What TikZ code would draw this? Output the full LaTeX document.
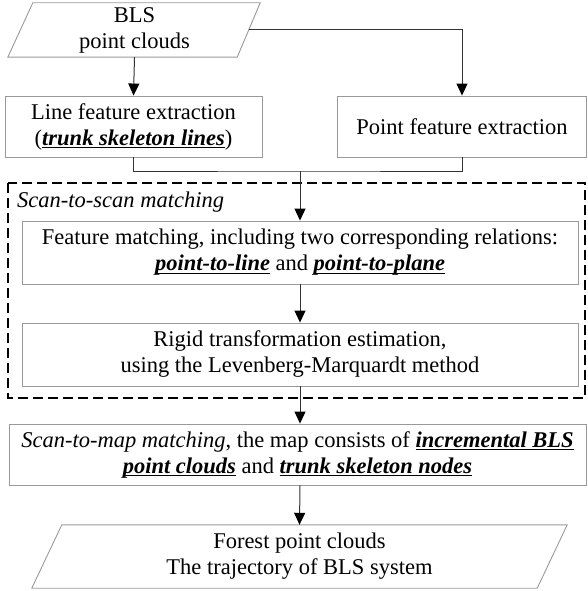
\documentclass[tikz,border=0pt]{standalone}
\usepackage{fontspec}
\setmainfont{Liberation Serif}
\usetikzlibrary{arrows.meta,calc}
\newcommand\ubi[1]{\setbox0\hbox{\bfseries\itshape #1}\rlap{\rule[-3.4pt]{\wd0}{1.5pt}}\box0{}}
\definecolor{boxgray}{gray}{0.6}
\definecolor{linegray}{gray}{0.2}
\tikzset{
  box/.style={draw=boxgray, line width=0.9pt, inner sep=0pt, align=center, font=\fontsize{22.5}{26}\selectfont},
  para/.style={inner sep=0pt, align=center, font=\fontsize{22.5}{26}\selectfont},
  pshape/.style={draw=boxgray, line width=0.9pt},
  conn/.style={draw=linegray, line width=1pt},
  arr/.style={conn, -{Triangle[length=12pt,width=11pt,color=black]}},
  dbox/.style={draw=black, line width=1.8pt, dash pattern=on 10pt off 5pt}
}
\begin{document}
\begin{tikzpicture}[x=1pt,y=-1pt]
\useasboundingbox (0,0) rectangle (587,591);
% dashed group
\draw[dbox] (8,183) rectangle (585,398);
\node[anchor=west, font=\fontsize{22.5}{26}\selectfont\itshape, inner sep=0pt] (lbl) at (17,202) {Scan-to-scan matching};
% nodes
\node[para, minimum width=228pt, minimum height=54pt] (bls) at (134.5,30) {BLS\\point clouds};
\draw[pshape] ($(bls.north west)+(12.5,0)$) -- ($(bls.north east)+(11.5,0)$) -- ($(bls.south east)+(-11.5,0)$) -- ($(bls.south west)+(-12.5,0)$) -- cycle;
\node[box, minimum width=257pt, minimum height=61pt] (line) at (133.5,126.5) {Line feature extraction\\(\ubi{trunk skeleton lines})};
\node[box, minimum width=249pt, minimum height=61pt] (point) at (462,126.5) {Point feature extraction};
\node[box, minimum width=556pt, minimum height=63pt] (feat) at (300,252.5) {Feature matching, including two corresponding relations:\\\ubi{point-to-line} and \ubi{point-to-plane}};
\node[box, minimum width=556pt, minimum height=63pt] (rigid) at (300,354.5) {Rigid transformation estimation,\\using the Levenberg-Marquardt method};
\node[box, minimum width=577pt, minimum height=61pt] (map) at (297.5,454.5) {\textit{Scan-to-map matching}, the map consists of \ubi{incremental BLS}\\\ubi{point clouds} and \ubi{trunk skeleton nodes}};
\node[para, minimum width=505pt, minimum height=63pt] (forest) at (299.5,556.5) {Forest point clouds\\The trajectory of BLS system};
\draw[pshape] ($(forest.north west)+(15,0)$) -- ($(forest.north east)+(15,0)$) -- ($(forest.south east)+(-15,0)$) -- ($(forest.south west)+(-15,0)$) -- cycle;
% connectors
\draw[arr] (bls.south) -- (line.north);
\draw[arr] (bls.east) -| (point.north);
\coordinate (m) at (300,171);
\draw[conn] (line.south) |- (m) -| (point.south);
\draw[arr] (m) -- (feat.north);
\draw[arr] (feat.south) -- (rigid.north);
\draw[arr] (rigid.south) -- (map.north -| rigid.south);
\draw[arr] (map.south -| rigid.south) -- (forest.north);
\end{tikzpicture}
\end{document}
